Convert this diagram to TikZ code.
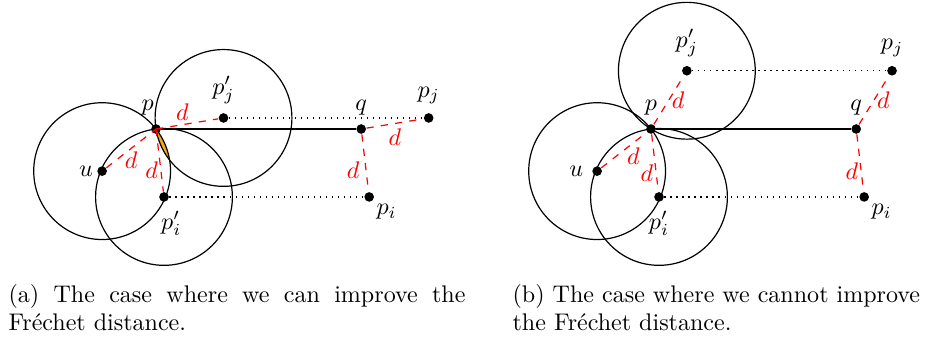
\documentclass[tikz,border=0pt]{standalone}
\definecolor{lensorange}{RGB}{242,168,20}
\tikzset{every picture/.style={line width=0.5pt}}
\tikzset{
  pt/.style={circle, fill=black, inner sep=0pt, minimum size=4pt},
  dist/.style={red, dashed},
  dlab/.style={red, inner sep=1pt},
  track/.style={dotted},
  capt/.style={anchor=north west, inner sep=0pt, font={\fontsize{10}{11.3}\selectfont\tolerance=9999}},
}

\begin{document}
\begin{tikzpicture}
\pgfmathsetmacro{\dval}{1}
\pgfmathsetmacro{\angja}{9.3}
\pgfmathsetmacro{\angjb}{58.4}
\pgfmathsetmacro{\angu}{218}
\pgfmathsetmacro{\angi}{276.7}
\pgfmathsetmacro{\xb}{7.237}

\useasboundingbox (-2.281,-3.070) rectangle (11.272,1.886);

% (a)
\node[pt, label={[xshift=-3.5pt]above:$p$}] (pa) at (0,0) {};
\node[pt, label=above:$p'_j$] (pja) at (\angja:\dval) {};
\node[pt, label=above:$q$] (qa) at (3,0) {};
\node[pt, label=above:$p_j$] (pjqa) at ([shift={(\angja:\dval)}]qa) {};
\node[pt, label={[label distance=-2pt]left:$u$}] (ua) at (\angu:\dval) {};
\node[pt, label={[xshift=3pt]below:$p'_i$}] (pia) at (\angi:\dval) {};
\node[pt, label={[label distance=-3pt]below right:$p_i$}] (piqa) at ([shift={(\angi:\dval)}]qa) {};

\begin{scope}
    \clip (ua.center) circle (\dval);
    \clip (pia.center) circle (\dval);
    \fill[lensorange] (pja.center) circle (\dval);
\end{scope}
\draw (ua.center) circle (\dval);
\draw (pja.center) circle (\dval);
\draw (pia.center) circle (\dval);

\draw (pa) -- (qa);
\draw[track] (pja) -- (pjqa);
\draw[track] (pia) -- (piqa);

\draw[dist] (pa.center) -- node[dlab, above, xshift=-2pt] {$d$} (pja);
\draw[dist] (ua) -- node[dlab, below] {$d$} (pa.center);
\draw[dist] (pa.center) -- node[dlab, left, pos=0.65] {$d$} (pia);
\draw[dist] (qa) -- node[dlab, left, pos=0.63, xshift=-1.5pt] {$d$} (piqa);
\draw[dist] (qa) -- node[dlab, below, yshift=-1pt] {$d$} (pjqa);

% (b)
\node[pt, label=above:$p$] (pb) at (\xb,0) {};
\node[pt, label=above:$p'_j$] (pjb) at ([shift={(\angjb:\dval)}]pb) {};
\node[pt, label=above:$q$] (qb) at (\xb+3,0) {};
\node[pt, label=above:$p_j$] (pjqb) at ([shift={(\angjb:\dval)}]qb) {};
\node[pt, label=left:$u$] (ub) at ([shift={(\angu:\dval)}]pb) {};
\node[pt, label=below:$p'_i$] (pib) at ([shift={(\angi:\dval)}]pb) {};
\node[pt, label={[label distance=-3pt]below right:$p_i$}] (piqb) at ([shift={(\angi:\dval)}]qb) {};

\draw (ub.center) circle (\dval);
\draw (pjb.center) circle (\dval);
\draw (pib.center) circle (\dval);

\draw (pb) -- (qb);
\draw[track] (pjb) -- (pjqb);
\draw[track] (pib) -- (piqb);

\draw[dist] (pb) -- node[dlab, right] {$d$} (pjb);
\draw[dist] (ub) -- node[dlab, below right, yshift=2pt] {$d$} (pb);
\draw[dist] (pb) -- node[dlab, left, pos=0.68] {$d$} (pib);
\draw[dist] (qb) -- node[dlab, right] {$d$} (pjqb);
\draw[dist] (qb) -- node[dlab, left, pos=0.65] {$d$} (piqb);

% captions
\node[capt, text width=6.68cm, align=justify] (capa) at (-2.164,-2.27)
    {(a) The case where we can improve the Fréchet distance.};
\node[capt, align=left] (capb) at (5.205,-2.27)
    {(b) The case where we cannot improve\\the Fréchet distance.};
\end{tikzpicture}
\end{document}
